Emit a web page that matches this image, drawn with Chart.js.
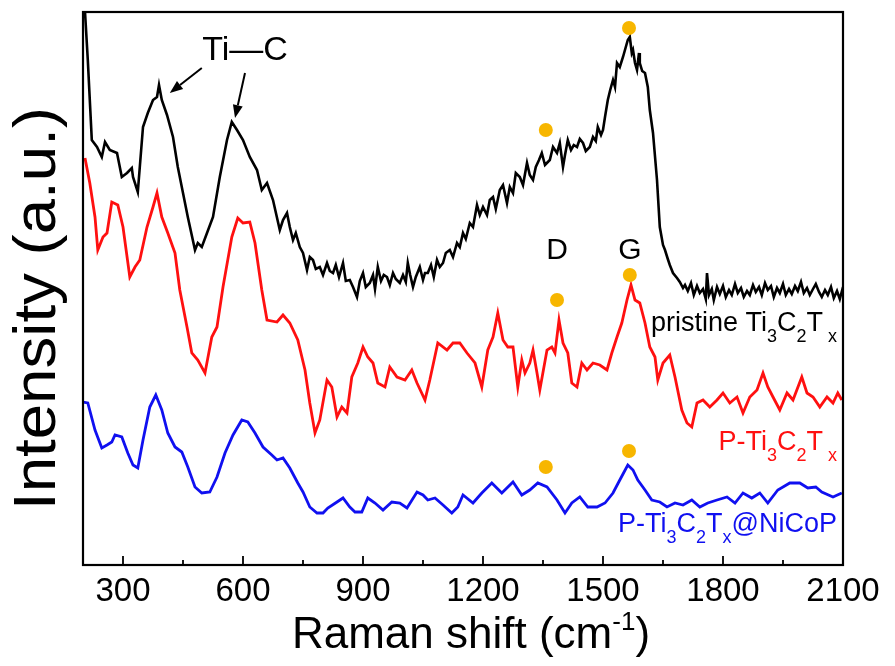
<!DOCTYPE html>
<html>
<head>
<meta charset="utf-8">
<script src="https://cdn.jsdelivr.net/npm/chart.js@4.4.1/dist/chart.umd.min.js"></script>
<style>
body { margin: 0; background: #fff; }
#wrap { width: 895px; height: 666px; }
</style>
</head>
<body>
<div id="wrap"><canvas id="ramanChart" width="895" height="666"></canvas></div>
<script>
// Espectros Raman (unidades arbitrarias)
var pristineX = [205,212,222,235,247,255,267,285,297,310,322,325,337,350,362,375,385,390,397,410,425,437,450,462,480,487,497,510,525,542,560,572,585,600,617,635,647,660,675,692,700,710,717,725,732,742,750,760,767,775,782,792,800,810,817,825,832,840,850,857,867,875,885,892,900,907,917,925,930,937,945,952,960,967,975,982,992,1000,1007,1012,1018,1025,1032,1042,1050,1055,1062,1070,1077,1085,1092,1100,1107,1117,1125,1135,1142,1150,1157,1167,1175,1185,1192,1200,1210,1217,1225,1232,1242,1250,1260,1267,1275,1282,1292,1300,1310,1317,1325,1332,1340,1347,1355,1367,1375,1385,1392,1400,1405,1412,1420,1427,1435,1442,1450,1457,1467,1475,1482,1487,1495,1500,1505,1512,1518,1525,1530,1535,1542,1550,1557,1562,1567,1572,1575,1580,1585,1590,1592,1598,1605,1612,1617,1625,1635,1642,1650,1655,1662,1667,1675,1685,1692,1700,1705,1712,1720,1727,1735,1742,1750,1757,1760,1765,1772,1777,1785,1792,1800,1807,1815,1822,1830,1837,1845,1852,1860,1867,1875,1882,1890,1897,1905,1912,1920,1927,1935,1942,1950,1957,1965,1972,1980,1987,1995,2002,2010,2017,2025,2032,2040,2047,2055,2062,2070,2077,2085,2092,2100];
var pristineY = [553,505,425,418,408,423,415,412,388,392,397,388,373,438,452,465,468,480,465,450,428,398,372,348,315,322,318,332,348,388,425,443,435,425,408,395,375,382,365,335,345,352,338,325,332,318,312,295,308,305,296,298,290,302,294,292,300,288,302,284,285,278,268,284,292,278,282,290,276,298,284,290,288,280,292,286,282,290,283,302,290,278,288,298,285,292,292,300,288,305,298,302,312,315,308,322,318,332,326,342,338,360,350,358,350,365,368,356,375,380,362,378,372,392,388,380,402,390,385,398,405,412,400,405,418,412,422,398,410,425,415,420,418,426,422,414,418,428,424,438,430,435,448,465,475,485,478,502,498,508,518,525,528,512,515,502,495,512,502,494,492,478,455,432,385,338,320,315,306,300,292,287,283,277,280,274,282,270,279,272,276,266,292,270,276,265,278,271,279,268,275,270,281,272,277,268,274,270,280,273,278,270,282,275,279,268,277,272,281,270,276,271,279,274,283,272,277,270,276,281,273,268,275,270,278,267,274,266,278];

var pTiX = [205,217,230,237,250,260,272,287,300,317,330,342,360,375,385,397,412,430,442,460,472,487,505,522,535,550,572,587,600,617,630,647,660,685,700,717,737,755,767,780,792,810,822,835,847,860,872,887,900,912,925,937,955,967,985,1005,1022,1035,1055,1067,1087,1110,1125,1142,1160,1180,1197,1212,1225,1237,1250,1262,1275,1287,1297,1305,1317,1325,1335,1342,1360,1372,1380,1390,1400,1412,1422,1435,1447,1460,1475,1492,1510,1522,1535,1547,1560,1570,1580,1592,1605,1617,1630,1637,1650,1667,1680,1697,1710,1722,1735,1750,1767,1785,1800,1817,1835,1850,1867,1885,1900,1912,1925,1942,1960,1975,1997,2010,2025,2042,2060,2075,2087,2097];
var pTiY = [407,382,348,315,328,332,363,360,338,288,298,305,338,358,372,348,332,312,275,238,212,205,192,228,238,278,328,347,342,343,322,275,245,243,250,242,225,195,162,132,145,185,178,148,158,152,188,202,218,208,202,182,178,198,188,185,195,182,165,185,222,215,222,222,212,202,178,215,228,252,225,218,218,178,205,192,202,215,192,175,215,218,212,245,222,212,182,178,202,195,202,200,195,212,228,242,265,280,265,262,242,218,208,185,202,210,188,155,142,138,162,165,158,165,172,162,168,152,168,175,192,178,168,155,172,165,188,172,168,158,168,162,172,165];

var niCoPX = [200,212,230,247,260,272,280,297,312,325,337,350,367,382,397,412,430,447,462,480,497,517,535,555,575,597,612,630,650,672,685,700,717,737,750,767,785,800,812,835,850,867,880,897,912,930,950,972,992,1010,1035,1050,1062,1080,1100,1122,1137,1150,1175,1197,1222,1247,1275,1297,1317,1337,1360,1385,1405,1422,1442,1462,1485,1505,1525,1542,1562,1575,1587,1605,1622,1642,1660,1680,1700,1722,1742,1762,1785,1810,1830,1850,1872,1892,1912,1937,1967,1992,2012,2032,2047,2075,2097];
var niCoPY = [163,162,135,117,120,123,130,128,112,100,97,125,158,170,155,132,118,113,98,78,72,73,88,112,130,145,143,132,118,110,105,107,97,82,73,58,52,52,57,63,67,58,53,53,67,62,55,63,62,57,73,70,65,67,60,52,58,70,62,72,82,72,83,70,75,82,78,65,52,62,68,58,58,62,72,85,100,95,85,75,65,63,58,62,60,65,58,62,65,68,62,72,67,72,62,75,82,82,77,78,73,68,72];

// Marcadores bandas D y G
var dotX = [1357, 1565, 1385, 1567, 1357, 1565];
var dotY = [435, 537, 265, 290, 98, 114];

var tickLabels = [300, 600, 900, 1200, 1500, 1800, 2100];
var minorTicks = [450, 750, 1050, 1350, 1650, 1950];

var FONT = "'Liberation Sans', Arial, sans-serif";
var RED = '#ff1010';
var BLUE = '#1010f0';

function toPoints(xs, ys) {
    return xs.map(function (x, i) { return { x: x, y: ys[i] }; });
}

// Texto con subindices: partes [texto, esSub]
function drawParts(ctx, parts, xRight, yBase, color, size) {
    var subSize = Math.round(size * 0.68);
    var total = 0;
    parts.forEach(function (p) {
        ctx.font = (p[1] ? subSize : size) + 'px ' + FONT;
        total += ctx.measureText(p[0]).width;
    });
    var x = xRight - total;
    ctx.fillStyle = color;
    ctx.textAlign = 'left';
    ctx.textBaseline = 'alphabetic';
    parts.forEach(function (p) {
        ctx.font = (p[1] ? subSize : size) + 'px ' + FONT;
        ctx.fillText(p[0], x, yBase + (p[1] ? size * 0.4 : 0));
        x += ctx.measureText(p[0]).width;
    });
}

function arrow(ctx, x1, y1, x2, y2) {
    var ang = Math.atan2(y2 - y1, x2 - x1);
    var hl = 13, hw = 5;
    ctx.beginPath();
    ctx.moveTo(x1, y1);
    ctx.lineTo(x2 - hl * Math.cos(ang), y2 - hl * Math.sin(ang));
    ctx.stroke();
    ctx.beginPath();
    ctx.moveTo(x2, y2);
    ctx.lineTo(x2 - hl * Math.cos(ang) + hw * Math.sin(ang), y2 - hl * Math.sin(ang) - hw * Math.cos(ang));
    ctx.lineTo(x2 - hl * Math.cos(ang) - hw * Math.sin(ang), y2 - hl * Math.sin(ang) + hw * Math.cos(ang));
    ctx.closePath();
    ctx.fill();
}

var decoPlugin = {
    id: 'deco',
    beforeDraw: function (chart) {
        var ctx = chart.ctx;
        ctx.save();
        ctx.fillStyle = '#fff';
        ctx.fillRect(0, 0, chart.width, chart.height);
        ctx.restore();
    },
    afterDraw: function (chart) {
        var ctx = chart.ctx, a = chart.chartArea;
        var xs = chart.scales.x, ys = chart.scales.y;
        ctx.save();

        // marco
        ctx.strokeStyle = '#000';
        ctx.lineWidth = 2.2;
        ctx.strokeRect(a.left, a.top, a.right - a.left, a.bottom - a.top);

        // ticks hacia dentro
        ctx.lineWidth = 1.8;
        tickLabels.forEach(function (v) {
            var px = xs.getPixelForValue(v);
            ctx.beginPath(); ctx.moveTo(px, a.bottom); ctx.lineTo(px, a.bottom - 9); ctx.stroke();
        });
        minorTicks.forEach(function (v) {
            var px = xs.getPixelForValue(v);
            ctx.beginPath(); ctx.moveTo(px, a.bottom); ctx.lineTo(px, a.bottom - 5); ctx.stroke();
        });

        // titulo eje y
        ctx.save();
        ctx.translate(38, (a.top + a.bottom) / 2 + 20);
        ctx.rotate(-Math.PI / 2);
        ctx.scale(1.06, 1);
        ctx.fillStyle = '#000';
        ctx.textAlign = 'center';
        ctx.textBaseline = 'middle';
        ctx.font = '60px ' + FONT;
        ctx.fillText('Intensity (a.u.)', 0, 0);
        ctx.restore();

        // titulo eje x con superindice
        var size = 44;
        var t1 = 'Raman shift (cm', sup = '-1', t2 = ')';
        ctx.font = size + 'px ' + FONT;
        var w1 = ctx.measureText(t1).width, w2 = ctx.measureText(t2).width;
        ctx.font = Math.round(size * 0.6) + 'px ' + FONT;
        var ws = ctx.measureText(sup).width;
        var cx = (a.left + a.right) / 2 + 8;
        var x0 = cx - (w1 + ws + w2) / 2, yb = 648;
        ctx.fillStyle = '#000';
        ctx.textAlign = 'left';
        ctx.textBaseline = 'alphabetic';
        ctx.font = size + 'px ' + FONT;
        ctx.fillText(t1, x0, yb);
        ctx.font = Math.round(size * 0.6) + 'px ' + FONT;
        ctx.fillText(sup, x0 + w1, yb - size * 0.42);
        ctx.font = size + 'px ' + FONT;
        ctx.fillText(t2, x0 + w1 + ws, yb);

        // Ti-C con flechas
        ctx.fillStyle = '#000';
        ctx.textAlign = 'center';
        ctx.textBaseline = 'middle';
        ctx.font = '34px ' + FONT;
        ctx.fillText('Ti\u2014C', xs.getPixelForValue(605), ys.getPixelForValue(514));
        ctx.lineWidth = 2;
        arrow(ctx, xs.getPixelForValue(497), ys.getPixelForValue(497), xs.getPixelForValue(417), ys.getPixelForValue(472));
        arrow(ctx, xs.getPixelForValue(605), ys.getPixelForValue(492), xs.getPixelForValue(580), ys.getPixelForValue(447));

        // D y G
        ctx.font = '30px ' + FONT;
        ctx.fillText('D', xs.getPixelForValue(1385), ys.getPixelForValue(314));
        ctx.fillText('G', xs.getPixelForValue(1567), ys.getPixelForValue(314));

        // etiquetas de series
        var xr = a.right - 6;
        drawParts(ctx, [['pristine Ti', 0], ['3', 1], ['C', 0], ['2', 1], ['T', 0], [' x', 1]], xr, ys.getPixelForValue(234), '#000', 27);
        drawParts(ctx, [['P-Ti', 0], ['3', 1], ['C', 0], ['2', 1], ['T', 0], [' x', 1]], xr, ys.getPixelForValue(115), RED, 27);
        drawParts(ctx, [['P-Ti', 0], ['3', 1], ['C', 0], ['2', 1], ['T', 0], ['x', 1], ['@NiCoP', 0]], xr, ys.getPixelForValue(33), BLUE, 27);

        ctx.restore();
    }
};

var ctx = document.getElementById('ramanChart').getContext('2d');
var ramanChart = new Chart(ctx, {
    type: 'line',
    data: {
        datasets: [
            {
                type: 'scatter',
                data: toPoints(dotX, dotY),
                backgroundColor: '#f7b600',
                borderWidth: 0,
                pointRadius: 7,
                order: 0
            },
            {
                data: toPoints(pristineX, pristineY),
                borderColor: '#000000',
                borderWidth: 2.6,
                pointRadius: 0,
                tension: 0,
                order: 1
            },
            {
                data: toPoints(pTiX, pTiY),
                borderColor: RED,
                borderWidth: 2.8,
                pointRadius: 0,
                tension: 0,
                order: 1
            },
            {
                data: toPoints(niCoPX, niCoPY),
                borderColor: BLUE,
                borderWidth: 2.8,
                pointRadius: 0,
                tension: 0,
                order: 1
            }
        ]
    },
    options: {
        responsive: false,
        animation: false,
        layout: { padding: { left: 0, right: 52, top: 12, bottom: 0 } },
        plugins: {
            legend: { display: false },
            tooltip: { enabled: false }
        },
        scales: {
            x: {
                type: 'linear',
                min: 200,
                max: 2100,
                afterBuildTicks: function (s) {
                    s.ticks = tickLabels.map(function (v) { return { value: v }; });
                },
                afterFit: function (s) { s.height = 101; },
                grid: { display: false, drawTicks: false },
                border: { display: false },
                ticks: {
                    autoSkip: false,
                    maxRotation: 0,
                    padding: 7,
                    color: '#000',
                    font: { family: FONT, size: 33 },
                    callback: function (v) { return String(v); }
                }
            },
            y: {
                min: 0,
                max: 553,
                afterFit: function (s) { s.width = 83; },
                grid: { display: false, drawTicks: false },
                border: { display: false },
                ticks: { display: false }
            }
        }
    },
    plugins: [decoPlugin]
});
</script>
</body>
</html>
